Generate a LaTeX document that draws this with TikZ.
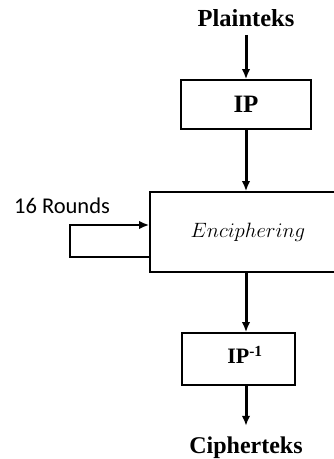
\documentclass[tikz,border=0pt]{standalone}
\usepackage{fontspec}
\setmainfont{Liberation Serif}
\newfontfamily\calibrifont{Carlito}
\usetikzlibrary{arrows.meta, positioning}

\begin{document}
\begin{tikzpicture}[x=1pt, y=-1pt,
    box/.style={draw, line width=1.6pt, inner sep=0pt},
    flow/.style={-{Latex[length=10pt,width=8.5pt]}, line width=3pt}]
    \useasboundingbox (0,0) rectangle (333,459);

    % Input and output texts
    \node[anchor=base, font=\bfseries\fontsize{24.5}{28}\selectfont] (plain) at (246,26) {Plainteks};
    \node[anchor=base, font=\bfseries\fontsize{24}{28}\selectfont] (cipher) at (246,453) {Cipherteks};

    % Boxes
    \node[box, minimum width=130pt, minimum height=49pt, font=\bfseries\fontsize{25}{28}\selectfont] (ip) at (246,104.5) {IP};
    \node[box, minimum width=196pt, minimum height=80pt, font=\fontsize{22.5}{26}\selectfont] (enc) at (248,232) {$Enciphering$};
    \node[box, minimum width=113pt, minimum height=52pt] (ipinv) at (238.5,359) {};
    \node[font=\bfseries\fontsize{22}{24}\selectfont] (ipinvtext) at (245,355) {IP\textsuperscript{-1}};

    % Rounds loop
    \node[font=\calibrifont\fontsize{22.5}{26}\selectfont] (rounds) at (62,206) {16 Rounds};
    \coordinate (loopout) at (enc.west |- 0,257);
    \coordinate (loopin) at (enc.west |- 0,225);
    \draw[flow, line width=2.4pt] (loopout) -- (70,257) |- (loopin);

    % Vertical arrows
    \draw[flow, shorten <=5pt] (plain.south) -- (ip.north);
    \draw[flow] (ip.south) -- (ip.south |- enc.north);
    \draw[flow] (ip.south |- enc.south) -- (ip.south |- ipinv.north);
    \draw[flow, shorten >=7pt] (ip.south |- ipinv.south) -- (ip.south |- cipher.north);
\end{tikzpicture}
\end{document}
